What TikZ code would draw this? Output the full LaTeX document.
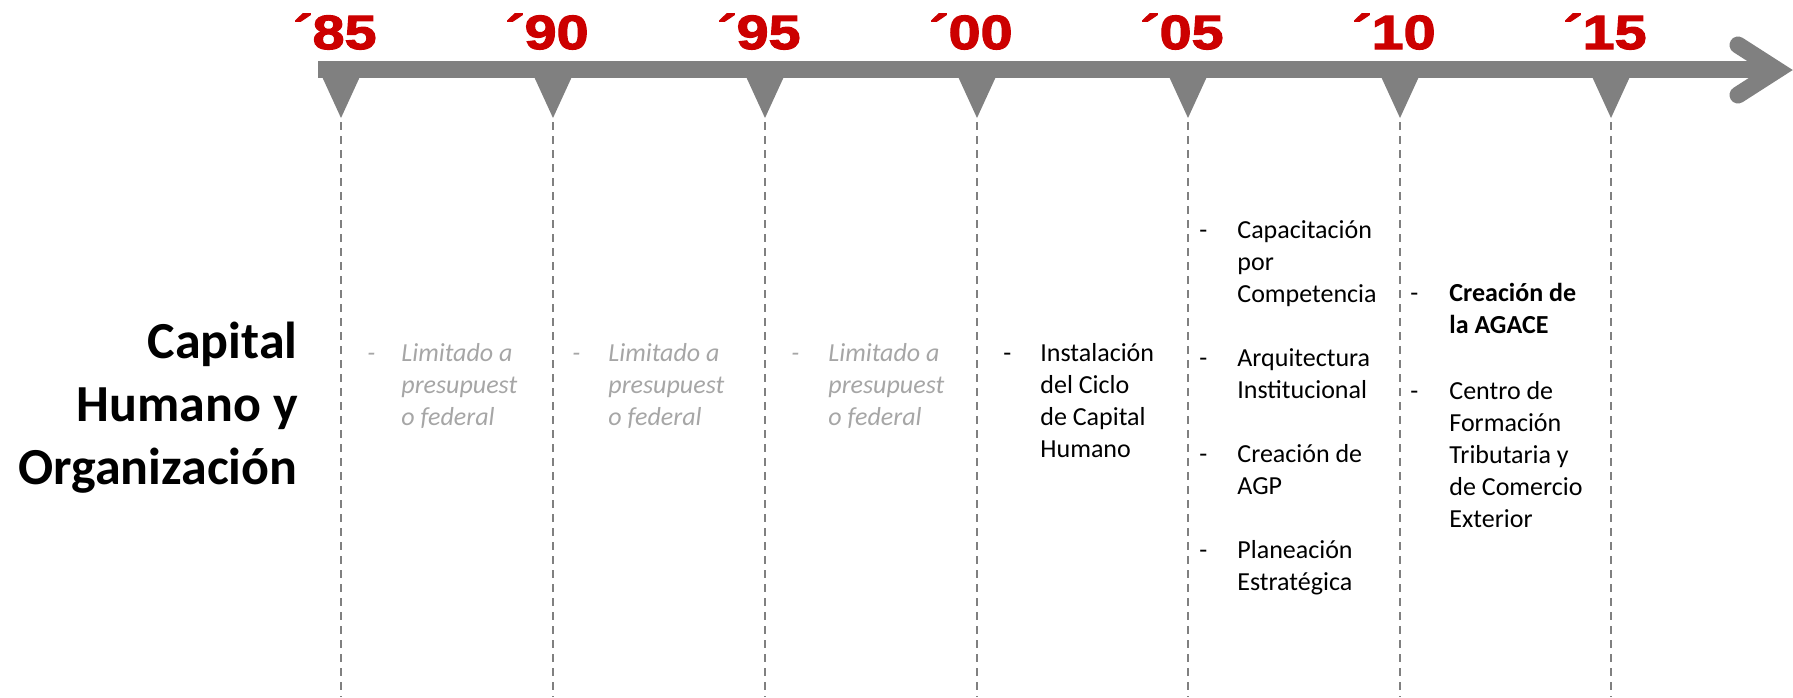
\documentclass[tikz,border=0pt]{standalone}
\usepackage{fontspec}
\setmainfont{Carlito}
\newfontfamily\yearfont{Liberation Sans}[FakeStretch=1.2,FakeBold=2.5]
\usetikzlibrary{positioning}

\definecolor{barGray}{HTML}{808080}
\definecolor{yearRed}{HTML}{CC0000}
\definecolor{softGray}{HTML}{A6A6A6}

% multi-line nodes are placed by the baseline of their last line
\tikzset{
  year/.style={anchor=base, inner sep=0pt, text=yearRed,
    font=\yearfont\bfseries\fontsize{24}{24}\selectfont},
  heading/.style={anchor=base east, inner sep=0pt, align=right,
    font=\bfseries\fontsize{26}{31.5}\selectfont},
  item/.style={anchor=base west, inner sep=0pt, align=left,
    font=\fontsize{13}{16}\selectfont},
  faded/.style={item, text=softGray, font=\itshape\fontsize{13}{16}\selectfont},
  guide/.style={barGray, line width=1pt, dash pattern=on 4pt off 3pt},
}

\begin{document}
\begin{tikzpicture}[x=0.5pt, y=-0.5pt]
        \useasboundingbox (0,0) rectangle (1793,697);

        % Time bar with arrow head
        \fill[barGray] (318,61) rectangle (1772,78);
        \draw[barGray, line width=8.5pt, line cap=round, line join=miter]
            (1738,45) -- (1777,70) -- (1738,95);

        % Ticks, years and guide lines
        \foreach \x/\yr in {341/85, 553/90, 765/95, 977/00, 1188/05, 1400/10, 1611/15} {
            \fill[barGray] (\x-22,70) -- (\x+22,70) -- (\x,118) -- cycle;
            \node[year] (yr\yr) at (\x-6,49) {´\yr};
            \coordinate (tip\yr) at (\x,122);
            \coordinate (foot\yr) at (\x,697);
            \draw[guide] (tip\yr) -- (foot\yr);
        }

        % Row title
        \node[heading] (title) at (298,484) {Capital\\Humano y\\Organización};

        % '85 - '00
        \node[faded] (d85) at (367,361) {-};
        \node[faded] (t85) at (401,425) {Limitado a\\presupuest\\o federal};
        \node[faded] (d90) at (572,361) {-};
        \node[faded] (t90) at (608,425) {Limitado a\\presupuest\\o federal};
        \node[faded] (d95) at (791,361) {-};
        \node[faded] (t95) at (828,425) {Limitado a\\presupuest\\o federal};

        % '00 - '05
        \node[item] (d00) at (1003,361) {-};
        \node[item] (t00) at (1040,457) {Instalación\\del Ciclo\\de Capital\\Humano};

        % '05 - '10
        \node[item] (d05a) at (1199,238) {-};
        \node[item] (t05a) at (1237,302) {Capacitación\\por\\Competencia};
        \node[item] (d05b) at (1199,366) {-};
        \node[item] (t05b) at (1237,398) {Arquitectura\\Institucional};
        \node[item] (d05c) at (1199,462) {-};
        \node[item] (t05c) at (1237,494) {Creación de\\AGP};
        \node[item] (d05d) at (1199,558) {-};
        \node[item] (t05d) at (1237,590) {Planeación\\Estratégica};

        % '10 - '15
        \node[item] (d10a) at (1410,301) {-};
        \node[item, font=\bfseries\fontsize{13}{16}\selectfont] (t10a) at (1449,333) {Creación de\\la AGACE};
        \node[item] (d10b) at (1410,399) {-};
        \node[item] (t10b) at (1449,527) {Centro de\\Formación\\Tributaria y\\de Comercio\\Exterior};
\end{tikzpicture}
\end{document}
